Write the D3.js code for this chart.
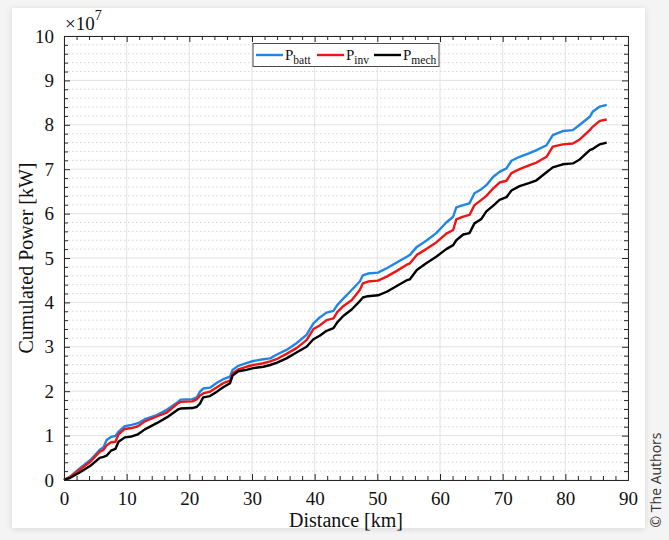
<!DOCTYPE html>
<html>
<head>
<meta charset="utf-8">
<script src="https://cdn.jsdelivr.net/npm/d3@7"></script>
<style>
  html, body { margin: 0; padding: 0; background: #f4f4f4; }
  svg { display: block; }
</style>
</head>
<body>
<svg id="chart" width="669" height="540"></svg>
<script>
// ---- data (distance in km, cumulated power in units of 1e7 kW) ----
const distance = [0, 1, 2.5, 4.2, 5.7, 6.3, 6.8, 7.5, 8.2, 8.7, 9.7, 10.8, 11.8, 12.9, 14.8, 16.4, 18.2, 18.6, 20.5, 21.2,
  21.7, 22.2, 23.3, 24.4, 25.4, 26.5, 26.9, 27.8, 29.1, 30.2, 31.8, 32.9, 33.9, 35.5, 37.1, 38.7, 39.8, 40.8, 41.9, 43.0,
  43.6, 44.6, 45.9, 47.2, 47.7, 48.5, 50.1, 51.5, 53.1, 54.7, 55.2, 56.3, 57.8, 59.4, 61.0, 62.1, 62.6, 63.7, 64.7, 65.5,
  66.6, 67.4, 68.5, 69.5, 70.6, 71.4, 72.7, 74.3, 75.4, 77.0, 78.0, 79.6, 81.2, 82.3, 83.9, 84.4, 85.5, 86.6];
const pBatt = [0, 0.08, 0.26, 0.45, 0.68, 0.74, 0.90, 0.97, 0.99, 1.09, 1.21, 1.24, 1.28, 1.37, 1.46, 1.58, 1.76, 1.81, 1.82, 1.86,
  1.99, 2.06, 2.08, 2.19, 2.27, 2.33, 2.48, 2.57, 2.63, 2.68, 2.72, 2.74, 2.82, 2.93, 3.08, 3.27, 3.53, 3.66, 3.77, 3.81,
  3.94, 4.09, 4.28, 4.47, 4.61, 4.65, 4.67, 4.77, 4.90, 5.03, 5.07, 5.25, 5.39, 5.56, 5.80, 5.93, 6.14, 6.19, 6.23, 6.46,
  6.55, 6.64, 6.83, 6.94, 7.02, 7.19, 7.28, 7.36, 7.43, 7.54, 7.77, 7.86, 7.88, 8.00, 8.18, 8.30, 8.41, 8.45];
const pInv = [0, 0.07, 0.23, 0.41, 0.64, 0.68, 0.78, 0.85, 0.86, 1.03, 1.15, 1.17, 1.21, 1.32, 1.43, 1.52, 1.73, 1.76, 1.77, 1.82,
  1.90, 1.95, 1.99, 2.09, 2.18, 2.24, 2.40, 2.49, 2.55, 2.59, 2.63, 2.67, 2.72, 2.84, 2.97, 3.15, 3.40, 3.48, 3.60, 3.64,
  3.78, 3.92, 4.05, 4.28, 4.43, 4.47, 4.49, 4.58, 4.71, 4.85, 4.88, 5.07, 5.20, 5.35, 5.55, 5.63, 5.87, 5.93, 5.97, 6.19,
  6.31, 6.40, 6.57, 6.70, 6.74, 6.91, 7.00, 7.09, 7.15, 7.28, 7.51, 7.56, 7.58, 7.67, 7.88, 7.96, 8.09, 8.12];
const pMech = [0, 0.05, 0.17, 0.32, 0.50, 0.52, 0.55, 0.66, 0.70, 0.86, 0.96, 0.98, 1.03, 1.14, 1.28, 1.41, 1.59, 1.61, 1.62, 1.65,
  1.72, 1.86, 1.89, 1.99, 2.09, 2.18, 2.35, 2.45, 2.48, 2.52, 2.55, 2.59, 2.64, 2.74, 2.87, 3.00, 3.17, 3.25, 3.36, 3.42,
  3.55, 3.70, 3.84, 4.03, 4.11, 4.14, 4.16, 4.24, 4.37, 4.50, 4.52, 4.73, 4.88, 5.03, 5.20, 5.29, 5.40, 5.53, 5.56, 5.78,
  5.88, 6.05, 6.18, 6.31, 6.37, 6.52, 6.62, 6.69, 6.75, 6.93, 7.04, 7.11, 7.13, 7.22, 7.43, 7.46, 7.56, 7.60];
const xTicks = [0, 10, 20, 30, 40, 50, 60, 70, 80, 90];
const yTicks = [0, 1, 2, 3, 4, 5, 6, 7, 8, 9, 10];
const seriesNames = ["batt", "inv", "mech"];
const seriesColors = ["#1f86e8", "#f01414", "#000000"];

// ---- layout ----
const svg = d3.select("#chart");
const L = 64, R = 628, T = 36, B = 480;
const x = d3.scaleLinear().domain([0, 90]).range([L, R]);
const y = d3.scaleLinear().domain([0, 10]).range([B, T]);
const serif = "'Liberation Serif', 'Times New Roman', serif";

// card with shadow
const defs = svg.append("defs");
const f = defs.append("filter").attr("id", "sh").attr("x", "-5%").attr("y", "-5%").attr("width", "110%").attr("height", "110%");
f.append("feDropShadow").attr("dx", 0).attr("dy", 1).attr("stdDeviation", 3).attr("flood-color", "#000").attr("flood-opacity", 0.12);
svg.append("rect").attr("x", 12).attr("y", 8).attr("width", 633).attr("height", 520).attr("fill", "#fff").attr("filter", "url(#sh)");

// grid
const yMinor = d3.range(0, 10.001, 0.2).filter(v => Math.abs(v - Math.round(v)) > 1e-6);
svg.append("g").selectAll("line").data(yMinor).join("line")
  .attr("x1", L).attr("x2", R).attr("y1", d => y(d)).attr("y2", d => y(d))
  .attr("stroke", "#d6d6d6").attr("stroke-width", 1).attr("stroke-dasharray", "1.5,2.5");
svg.append("g").selectAll("line").data(yTicks).join("line")
  .attr("x1", L).attr("x2", R).attr("y1", d => y(d)).attr("y2", d => y(d))
  .attr("stroke", "#e2e2e2").attr("stroke-width", 1);
svg.append("g").selectAll("line").data(xTicks).join("line")
  .attr("y1", T).attr("y2", B).attr("x1", d => x(d)).attr("x2", d => x(d))
  .attr("stroke", "#e2e2e2").attr("stroke-width", 1);

// lines
const line = d3.line().x((d, i) => x(distance[i])).y(d => y(d));
[pBatt, pInv, pMech].forEach((s, k) => {
  svg.append("path").datum(s).attr("d", line).attr("fill", "none")
    .attr("stroke", seriesColors[k]).attr("stroke-width", 2.4).attr("stroke-linejoin", "round");
});

// axes (inward ticks, box)
const axisColor = "#262626";
const xMinor = d3.range(0, 90.001, 2).filter(v => v % 10 !== 0);
const gx = svg.append("g").attr("transform", `translate(0,${B})`)
  .call(d3.axisBottom(x).tickValues(xTicks).tickSize(-6).tickPadding(12).tickFormat(d3.format("d")));
const gxTop = svg.append("g").attr("transform", `translate(0,${T})`)
  .call(d3.axisTop(x).tickValues(xTicks).tickSize(-6).tickFormat(""));
const gy = svg.append("g").attr("transform", `translate(${L},0)`)
  .call(d3.axisLeft(y).tickValues(yTicks).tickSize(-6).tickPadding(10).tickFormat(d3.format("d")));
const gyR = svg.append("g").attr("transform", `translate(${R},0)`)
  .call(d3.axisRight(y).tickValues(yTicks).tickSize(-6).tickFormat(""));
[gx, gxTop, gy, gyR].forEach(g => {
  g.select(".domain").attr("stroke", axisColor).attr("stroke-width", 1);
  g.selectAll(".tick line").attr("stroke", axisColor);
  g.selectAll("text").attr("fill", "#111").style("font-family", serif).style("font-size", "19px");
});
// minor ticks
svg.append("g").call(d3.axisBottom(x).tickValues(xMinor).tickSize(-4).tickFormat(""))
  .attr("transform", `translate(0,${B})`).call(g => g.select(".domain").remove())
  .selectAll(".tick line").attr("stroke", axisColor);
svg.append("g").call(d3.axisTop(x).tickValues(xMinor).tickSize(-4).tickFormat(""))
  .attr("transform", `translate(0,${T})`).call(g => g.select(".domain").remove())
  .selectAll(".tick line").attr("stroke", axisColor);
svg.append("g").call(d3.axisLeft(y).tickValues(yMinor).tickSize(-4).tickFormat(""))
  .attr("transform", `translate(${L},0)`).call(g => g.select(".domain").remove())
  .selectAll(".tick line").attr("stroke", axisColor);
svg.append("g").call(d3.axisRight(y).tickValues(yMinor).tickSize(-4).tickFormat(""))
  .attr("transform", `translate(${R},0)`).call(g => g.select(".domain").remove())
  .selectAll(".tick line").attr("stroke", axisColor);

// exponent label
const ex = svg.append("text").attr("x", L + 1).attr("y", 30).style("font-family", serif).style("font-size", "19px").attr("fill", "#111");
ex.append("tspan").text("×10");
ex.append("tspan").attr("dy", -10).style("font-size", "14px").text("7");

// axis labels
svg.append("text").attr("x", (L + R) / 2).attr("y", 527).attr("text-anchor", "middle")
  .style("font-family", serif).style("font-size", "20px").attr("fill", "#111").text("Distance [km]");
svg.append("text").attr("transform", `translate(33,${(T + B) / 2}) rotate(-90)`).attr("text-anchor", "middle")
  .style("font-family", serif).style("font-size", "20px").attr("fill", "#111").text("Cumulated Power [kW]");

// legend
const lg = svg.append("g");
lg.append("rect").attr("x", 253).attr("y", 43.5).attr("width", 186).attr("height", 23)
  .attr("fill", "#fff").attr("stroke", "#4a4a4a").attr("stroke-width", 1);
const legX = [256, 317, 374];
seriesNames.forEach((n, k) => {
  lg.append("line").attr("x1", legX[k]).attr("x2", legX[k] + 27).attr("y1", 55).attr("y2", 55)
    .attr("stroke", seriesColors[k]).attr("stroke-width", 2.4);
  const t = lg.append("text").attr("x", legX[k] + 29).attr("y", 60).style("font-family", serif)
    .style("font-size", "15px").attr("fill", "#111");
  t.append("tspan").text("P");
  t.append("tspan").attr("dy", 4).style("font-size", "11.5px").text(n);
});

// copyright
svg.append("text").attr("transform", "translate(661,480) rotate(-90)").attr("text-anchor", "middle")
  .style("font-family", "'Open Sans', sans-serif").style("font-size", "14px").attr("fill", "#333").text("© The Authors");
</script>
</body>
</html>
